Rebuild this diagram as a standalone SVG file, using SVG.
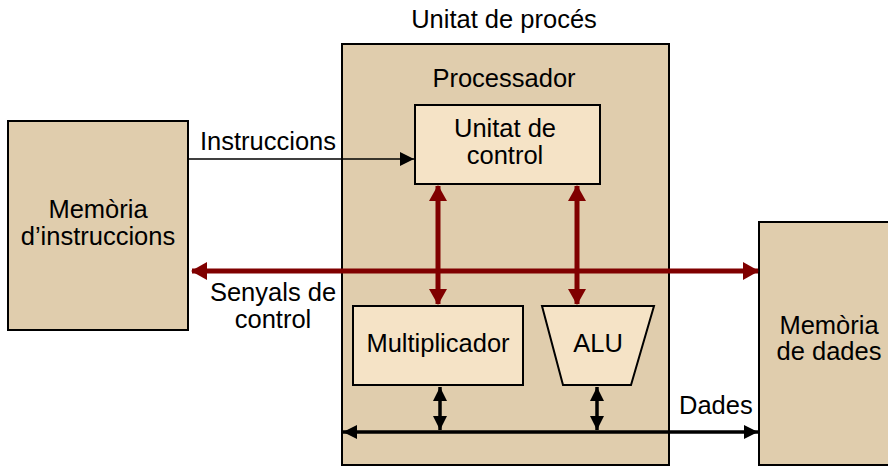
<svg xmlns="http://www.w3.org/2000/svg" width="888" height="468" viewBox="0 0 888 468">
  <style>
    .outer { fill: #e0cdad; stroke: #000; stroke-width: 2; }
    .inner { fill: #f5e3c6; stroke: #000; stroke-width: 2; }
    text { font-family: "Liberation Sans", Arial, sans-serif; font-size: 25.5px; fill: #000; }
    .c { text-anchor: middle; }
    .red { stroke: #800000; stroke-width: 5; fill: none; }
    .blk { stroke: #000; fill: none; }
  </style>
  <defs>
    <marker id="redHead" viewBox="0 0 16 18" refX="15" refY="9" markerWidth="16" markerHeight="18" markerUnits="userSpaceOnUse" orient="auto-start-reverse">
      <path d="M0,0 L16,9 L0,18 Z" fill="#800000"/>
    </marker>
    <marker id="blkHead" viewBox="0 0 14 14" refX="14" refY="7" markerWidth="14" markerHeight="14" markerUnits="userSpaceOnUse" orient="auto-start-reverse">
      <path d="M0,0 L14,7 L0,14 Z" fill="#000"/>
    </marker>
    <marker id="busHead" viewBox="0 0 14 14" refX="14" refY="7" markerWidth="14" markerHeight="14" markerUnits="userSpaceOnUse" orient="auto-start-reverse">
      <path d="M0,0 L14,7 L0,14 Z" fill="#000"/>
    </marker>
  </defs>

  <text class="c" x="504" y="28">Unitat de procés</text>

  <g id="mem-instr">
    <rect class="outer" x="8" y="121" width="180" height="209"/>
    <text class="c" x="98" y="218">Memòria</text>
    <text class="c" x="98" y="245">d’instruccions</text>
  </g>

  <g id="processador">
    <rect class="outer" x="342" y="44" width="327" height="421"/>
    <text class="c" x="504" y="87">Processador</text>
  </g>

  <g id="mem-dades">
    <rect class="outer" x="759" y="222" width="140" height="243"/>
    <text class="c" x="829" y="334">Memòria</text>
    <text class="c" x="829" y="360">de dades</text>
  </g>

  <g id="unitat-control">
    <rect class="inner" x="415" y="105" width="185" height="79"/>
    <text class="c" x="505" y="137">Unitat de</text>
    <text class="c" x="505" y="164">control</text>
  </g>

  <g id="multiplicador">
    <rect class="inner" x="353" y="306" width="170" height="79"/>
    <text class="c" x="438" y="352">Multiplicador</text>
  </g>

  <g id="alu">
    <path class="inner" d="M542,306 L654,306 L631,385 L563,385 Z"/>
    <text class="c" x="598" y="352">ALU</text>
  </g>

  <g id="connectors">
    <line class="blk" x1="188" y1="159" x2="414" y2="159" stroke-width="1.5" marker-end="url(#blkHead)"/>
    <line class="red" x1="192" y1="271" x2="758" y2="271" marker-start="url(#redHead)" marker-end="url(#redHead)"/>
    <line class="red" x1="438" y1="186" x2="438" y2="304" marker-start="url(#redHead)" marker-end="url(#redHead)"/>
    <line class="red" x1="577" y1="186" x2="577" y2="304" marker-start="url(#redHead)" marker-end="url(#redHead)"/>
    <line class="blk" x1="343" y1="432" x2="758" y2="432" stroke-width="3.5" marker-start="url(#busHead)" marker-end="url(#busHead)"/>
    <line class="blk" x1="440" y1="387" x2="440" y2="430" stroke-width="3.5" marker-start="url(#busHead)" marker-end="url(#busHead)"/>
    <line class="blk" x1="597" y1="387" x2="597" y2="430" stroke-width="3.5" marker-start="url(#busHead)" marker-end="url(#busHead)"/>
  </g>

  <text x="200" y="150">Instruccions</text>
  <text class="c" x="273" y="301">Senyals de</text>
  <text class="c" x="273" y="328">control</text>
  <text x="679" y="414">Dades</text>
</svg>
